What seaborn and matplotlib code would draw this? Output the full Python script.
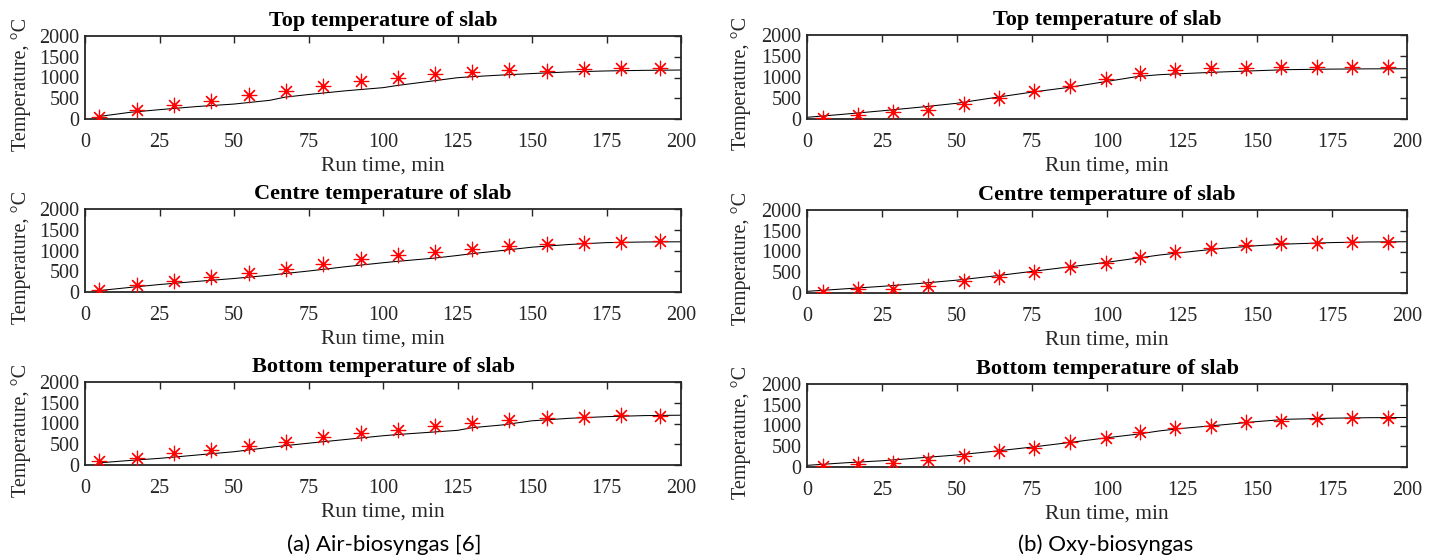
import matplotlib
matplotlib.use("Agg")
import matplotlib.pyplot as plt
import numpy as np
import pandas as pd
import seaborn as sns

# ---------------- data ----------------
# (a) Air-biosyngas : experimental points
air_exp_time = [4.6, 17.3, 29.9, 42.4, 55.0, 67.3, 79.9, 92.7, 105.1, 117.3,
                129.9, 142.4, 155.1, 167.6, 179.9, 193.0]
air_top_exp = [60, 210, 340, 445, 567, 672, 800, 915, 1000, 1077,
               1142, 1174, 1160, 1198, 1239, 1239]
air_centre_exp = [50, 158, 260, 360, 460, 565, 680, 790, 880, 970,
                  1040, 1110, 1150, 1180, 1215, 1235]
air_bottom_exp = [90, 170, 280, 360, 465, 565, 675, 775, 840, 930,
                  1010, 1075, 1130, 1165, 1195, 1185]

# (a) Air-biosyngas : simulated curves
air_sim_time = [4.6, 15, 25, 37.5, 50, 62, 67, 75, 87.5, 100, 105, 117,
                125, 130, 140, 150, 162.5, 175, 187.5, 200]
air_top_sim = [60, 160, 225, 300, 360, 450, 525, 590, 680, 755, 810, 920,
               995, 1020, 1060, 1095, 1135, 1158, 1172, 1180]
air_centre_sim = [33, 110, 180, 255, 325, 405, 445, 505, 610, 705, 740, 815,
                  880, 925, 1000, 1080, 1145, 1190, 1205, 1210]
air_bottom_sim = [50, 110, 160, 240, 320, 425, 465, 525, 615, 705, 735, 795,
                  835, 900, 965, 1065, 1125, 1165, 1190, 1200]

# (b) Oxy-biosyngas : experimental points
oxy_exp_time = [5.4, 17.0, 28.6, 40.4, 52.3, 64.1, 75.7, 87.7, 99.5, 110.9,
                122.7, 134.5, 146.4, 158.1, 169.9, 181.8, 193.6]
oxy_top_exp = [30, 100, 160, 225, 365, 500, 660, 790, 960, 1100,
               1165, 1205, 1205, 1245, 1245, 1245, 1245]
oxy_centre_exp = [35, 85, 107, 175, 280, 388, 512, 620, 727, 867,
                  1000, 1095, 1160, 1215, 1200, 1240, 1220]
oxy_bottom_exp = [30, 82, 95, 165, 272, 379, 465, 601, 700, 848,
                  950, 995, 1090, 1115, 1150, 1185, 1185]

# (b) Oxy-biosyngas : simulated curves
oxy_sim_time = [0, 12.5, 25, 37.5, 50, 62.5, 75, 87.5, 100, 110, 117.5, 125,
                137.5, 150, 160, 175, 187.5, 200]
oxy_top_sim = [40, 115, 195, 280, 375, 510, 640, 755, 895, 1010, 1055, 1080,
               1118, 1150, 1175, 1188, 1194, 1196]
oxy_centre_sim = [40, 100, 160, 230, 310, 410, 520, 630, 740, 840, 915, 975,
                  1070, 1140, 1180, 1215, 1230, 1235]
oxy_bottom_sim = [40, 100, 150, 220, 290, 380, 480, 590, 705, 790, 870, 930,
                  1010, 1095, 1150, 1177, 1188, 1193]

titles = ["Top temperature of slab", "Centre temperature of slab",
          "Bottom temperature of slab"]
x_ticks = [0, 25, 50, 75, 100, 125, 150, 175, 200]
y_ticks = [0, 500, 1000, 1500, 2000]
captions = ["(a) Air-biosyngas [6]", "(b) Oxy-biosyngas"]

# ---------------- style ----------------
sns.set_theme(style="white")
plt.rcParams["font.family"] = ["Liberation Serif", "DejaVu Serif"]
DARK = "#262626"

W, H = 1437, 558
fig = plt.figure(figsize=(W / 100, H / 100), dpi=100)
fig.patch.set_facecolor("white")

columns = [
    dict(x0=85, x1=681, ylab_px=31, rows=[(36, 119), (209, 292), (382, 465)],
         exp_t=air_exp_time, sim_t=air_sim_time,
         exp=[air_top_exp, air_centre_exp, air_bottom_exp],
         sim=[air_top_sim, air_centre_sim, air_bottom_sim]),
    dict(x0=807, x1=1407, ylab_px=751, rows=[(35, 119), (210, 293), (384, 467)],
         exp_t=oxy_exp_time, sim_t=oxy_sim_time,
         exp=[oxy_top_exp, oxy_centre_exp, oxy_bottom_exp],
         sim=[oxy_top_sim, oxy_centre_sim, oxy_bottom_sim]),
]

for ci, col in enumerate(columns):
    wpx = col["x1"] - col["x0"]
    for ri, (top, bot) in enumerate(col["rows"]):
        ax = fig.add_axes([col["x0"] / W, 1 - bot / H, wpx / W, (bot - top) / H])
        sim_df = pd.DataFrame({"t": col["sim_t"], "T": col["sim"][ri]})
        exp_df = pd.DataFrame({"t": col["exp_t"], "T": col["exp"][ri]})
        sns.lineplot(data=sim_df, x="t", y="T", ax=ax, color="black",
                     linewidth=0.75, zorder=2)
        sns.scatterplot(data=exp_df, x="t", y="T", ax=ax, marker=(8, 2, 0),
                        color="red", s=110, linewidth=0.85, zorder=3)
        ax.set_xlim(0, 200)
        ax.set_ylim(0, 2000)
        ax.set_xticks(x_ticks)
        ax.set_yticks(y_ticks)
        ax.tick_params(axis="both", direction="in", length=5, width=1,
                       top=True, right=True, labelsize=14.5, colors=DARK,
                       labelcolor=DARK)
        ax.tick_params(axis="x", pad=10)
        ax.tick_params(axis="y", pad=4)
        for sp in ax.spines.values():
            sp.set_visible(True)
            sp.set_linewidth(1.3)
            sp.set_color(DARK)
        ax.set_title(titles[ri], fontsize=16, fontweight="bold",
                     color="black", pad=7)
        ax.set_xlabel("Run time, min", fontsize=15.5, color=DARK, labelpad=3)
        ax.set_ylabel("Temperature, °C", fontsize=14.5, color=DARK)
        ax.yaxis.set_label_coords((col["ylab_px"] - col["x0"]) / wpx, 0.42)
        ax.grid(False)

fig.text(384 / W, 1 - 545 / H, captions[0], ha="center", va="center",
         fontsize=16, family=["Lato", "DejaVu Sans"], color="black")
fig.text(1106 / W, 1 - 545 / H, captions[1], ha="center", va="center",
         fontsize=16, family=["Lato", "DejaVu Sans"], color="black")

fig.savefig("out.png", dpi=100, facecolor="white")
